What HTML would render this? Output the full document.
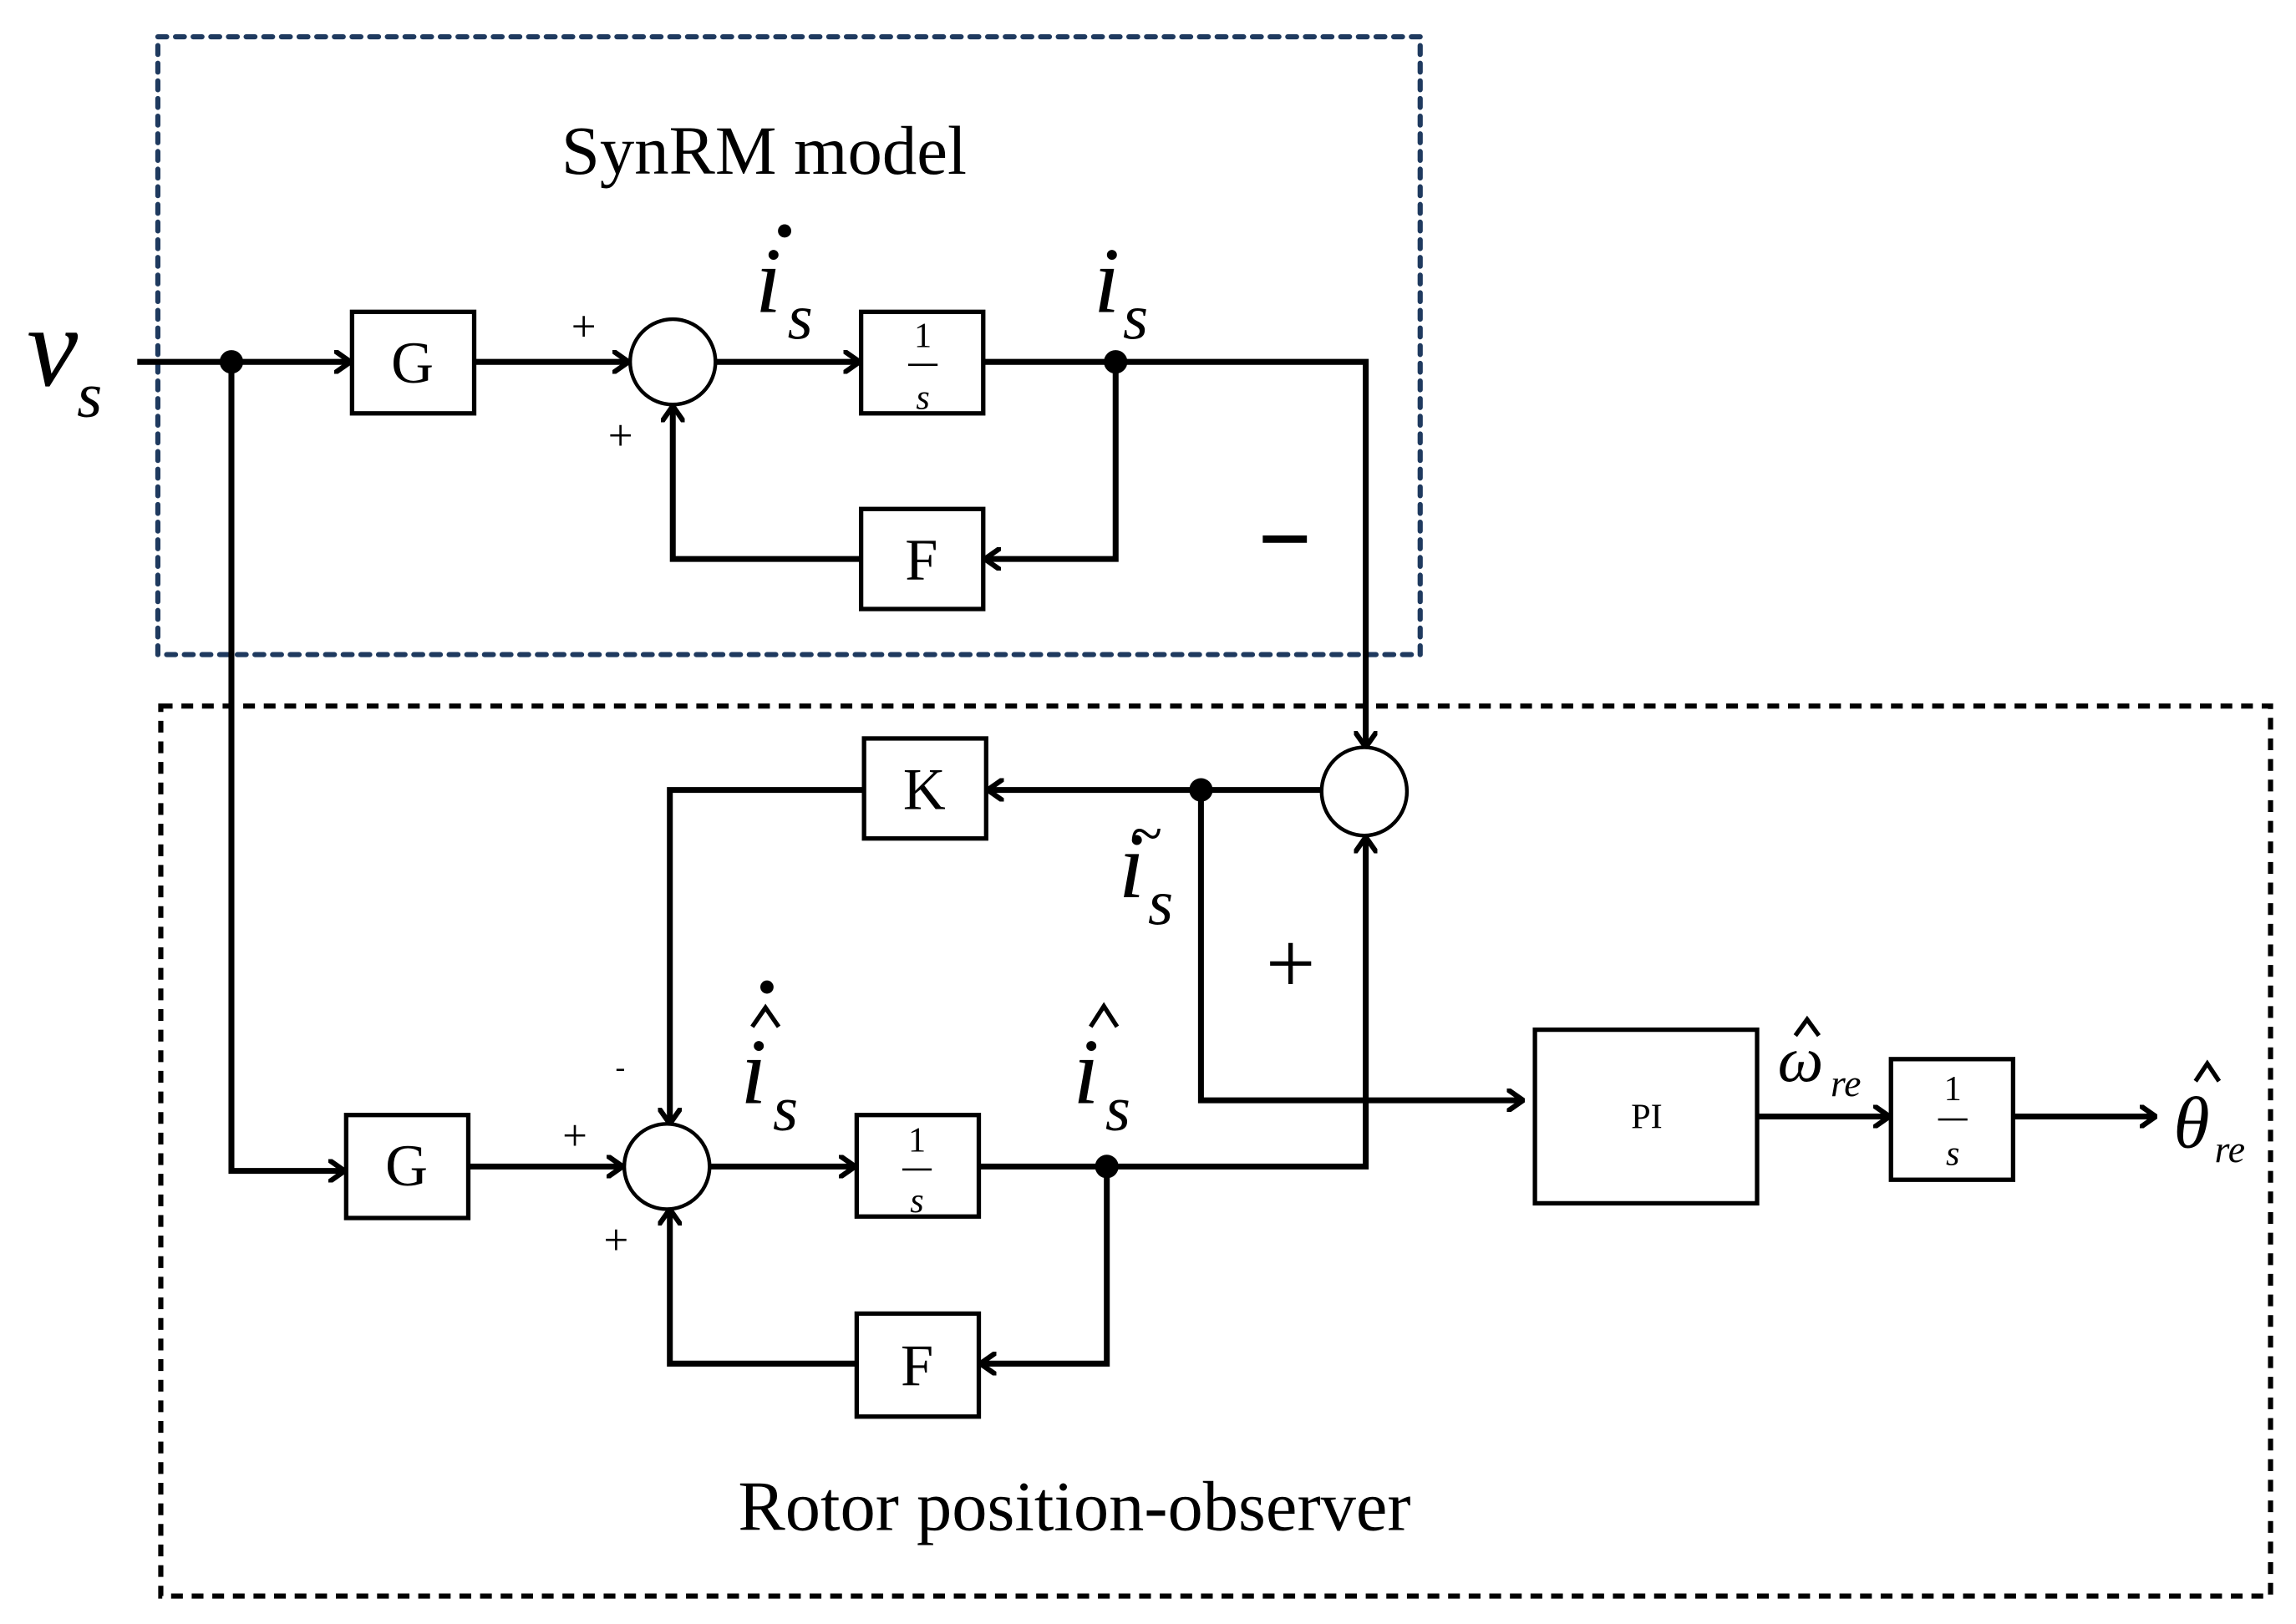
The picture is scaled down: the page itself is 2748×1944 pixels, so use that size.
<!DOCTYPE html>
<html><head><meta charset="utf-8"><style>
html,body{margin:0;padding:0;background:#fff;}
svg{display:block;}
text{font-family:"Liberation Serif",serif;fill:#000;}
.it{font-style:italic;}
</style></head><body>
<svg width="2748" height="1944" viewBox="0 0 1560 1104" xmlns="http://www.w3.org/2000/svg">
<defs>
<marker id="a" viewBox="0 0 12 16" refX="11" refY="8" markerWidth="12" markerHeight="16" markerUnits="userSpaceOnUse" orient="auto">
<path d="M1,1 L11,8 L1,15" fill="none" stroke="#000" stroke-width="3.5" stroke-linecap="round"/>
</marker>
</defs>
<rect x="107" y="25" width="858" height="420" fill="none" stroke="#1f3a5f" stroke-width="3.5" stroke-dasharray="6,6" stroke-linecap="round"/>
<rect x="109" y="480" width="1434" height="605" fill="none" stroke="#000" stroke-width="3.5" stroke-dasharray="8,6"/>
<text x="519" y="118" font-size="47" text-anchor="middle">SynRM model</text>
<text x="730" y="1040" font-size="48" text-anchor="middle">Rotor position-observer</text>

<g fill="none" stroke="#000" stroke-width="4" stroke-linejoin="miter">
<rect x="239" y="212" width="83" height="69" stroke-width="3"/>
<rect x="585" y="212" width="83" height="69" stroke-width="3"/>
<rect x="585" y="346" width="83" height="68" stroke-width="3"/>
<ellipse cx="457" cy="246" rx="29" ry="29" stroke-width="2.5"/>
<line x1="93" y1="246" x2="238" y2="246" marker-end="url(#a)"/>
<line x1="322" y1="246" x2="427" y2="246" marker-end="url(#a)"/>
<line x1="486" y1="246" x2="584" y2="246" marker-end="url(#a)"/>
<polyline points="668,246 928,246 928,508" marker-end="url(#a)"/>
<polyline points="758,246 758,380 669,380" marker-end="url(#a)"/>
<polyline points="585,380 457,380 457,276" marker-end="url(#a)"/>
<ellipse cx="927" cy="538" rx="29" ry="30" stroke-width="2.5"/>
<rect x="587" y="502" width="83" height="68" stroke-width="3"/>
<rect x="235" y="758" width="83" height="70" stroke-width="3"/>
<rect x="582" y="758" width="83" height="69" stroke-width="3"/>
<rect x="582" y="893" width="83" height="70" stroke-width="3"/>
<rect x="1043" y="700" width="151" height="118" stroke-width="3"/>
<rect x="1285" y="720" width="83" height="82" stroke-width="3"/>
<ellipse cx="453" cy="793" rx="29" ry="29" stroke-width="2.5"/>
<line x1="898" y1="537" x2="671" y2="537" marker-end="url(#a)"/>
<polyline points="587,537 455,537 455,764" marker-end="url(#a)"/>
<polyline points="816,537 816,748 1035,748" marker-end="url(#a)"/>
<polyline points="157,246 157,796 234,796" marker-end="url(#a)"/>
<line x1="318" y1="793" x2="423" y2="793" marker-end="url(#a)"/>
<line x1="482" y1="793" x2="581" y2="793" marker-end="url(#a)"/>
<polyline points="665,793 928,793 928,569" marker-end="url(#a)"/>
<polyline points="752,793 752,927 666,927" marker-end="url(#a)"/>
<polyline points="582,927 455,927 455,822" marker-end="url(#a)"/>
<line x1="1194" y1="759" x2="1284" y2="759" marker-end="url(#a)"/>
<line x1="1368" y1="759" x2="1465" y2="759" marker-end="url(#a)"/>
</g>
<g fill="#000">
<circle cx="157" cy="246" r="8"/><circle cx="758" cy="246" r="8"/>
<circle cx="816" cy="537" r="8"/><circle cx="752" cy="793" r="8"/>
</g>
<g font-size="40" text-anchor="middle">
<text x="280" y="260">G</text><text x="626" y="394">F</text>
<text x="628" y="550">K</text><text x="276" y="806">G</text>
<text x="623" y="942">F</text>
</g>
<text x="1119" y="767" font-size="24" text-anchor="middle">PI</text>
<g font-size="24" text-anchor="middle">
<text x="627" y="236">1</text><text x="627" y="278" class="it">s</text>
<text x="623" y="783">1</text><text x="623" y="824" class="it">s</text>
<text x="1327" y="748">1</text><text x="1327" y="792" class="it">s</text>
</g>
<g stroke="#000" stroke-width="1.5">
<line x1="617" y1="248" x2="637" y2="248"/><line x1="613" y1="795" x2="633" y2="795"/><line x1="1317" y1="761" x2="1337" y2="761"/>
</g>
<g font-size="30">
<text x="388" y="232">+</text><text x="413" y="306">+</text>
<text x="382" y="782">+</text><text x="410" y="853">+</text>
<text x="418" y="732" font-size="20">-</text>
</g>
<rect x="858" y="364" width="30" height="5" fill="#000"/>
<text x="860" y="675" font-size="60">+</text>
<g fill="none" stroke="#000" stroke-width="3" stroke-linejoin="miter">
<path d="M511,698 L520,685 L529,698"/>
<path d="M741,698 L750,684 L759,698"/>
<path d="M1220,704 L1228,693 L1236,704"/>
<path d="M1492,735 L1500,723 L1508,735"/>
</g>
<text x="18" y="262" font-size="78" class="it">v</text>
<text x="52" y="283" font-size="44" class="it">s</text>
<text x="513" y="212" font-size="64" class="it">i</text>
<circle cx="533" cy="157" r="4.5"/>
<text x="535" y="230" font-size="44" class="it">s</text>
<text x="743" y="212" font-size="64" class="it">i</text>
<text x="763" y="230" font-size="44" class="it">s</text>
<text x="760" y="610" font-size="64" class="it">i</text>
<text x="768" y="580" font-size="40">~</text>
<text x="780" y="628" font-size="44" class="it">s</text>
<text x="503" y="750" font-size="64" class="it">i</text>
<circle cx="521" cy="671" r="4.5"/>
<text x="525" y="768" font-size="44" class="it">s</text>
<text x="729" y="750" font-size="64" class="it">i</text>
<text x="751" y="768" font-size="44" class="it">s</text>
<text x="1208" y="735" font-size="44" class="it">ω</text>
<text x="1244" y="745" font-size="26" class="it">re</text>
<text x="1477" y="780" font-size="50" class="it">θ</text>
<text x="1505" y="790" font-size="26" class="it">re</text>
</svg>
</body></html>
